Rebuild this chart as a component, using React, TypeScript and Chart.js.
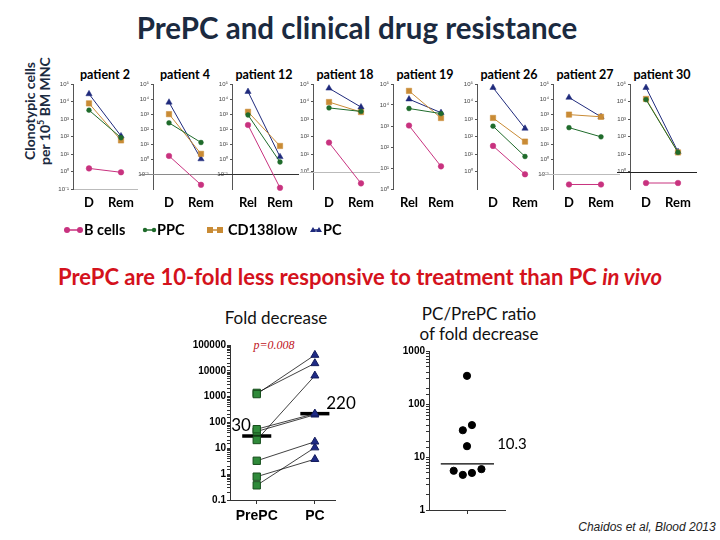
import React, { useEffect, useRef } from 'react';
import { Chart, registerables } from 'chart.js';
Chart.register(...registerables);

// ---------- data: top panels (clonotypic cells per 10^5 BM MNC) ----------
const panelTitles = ['patient 2', 'patient 4', 'patient 12', 'patient 18', 'patient 19', 'patient 26', 'patient 27', 'patient 30'];
const panelTimepoints = [['D', 'Rem'], ['D', 'Rem'], ['Rel', 'Rem'], ['D', 'Rem'], ['Rel', 'Rem'], ['D', 'Rem'], ['D', 'Rem'], ['D', 'Rem']];
const bCells = [[1.5, 0.9], [1.6, 0.019], [185, 0.012], [45, 0.21], [1050, 12], [29, 0.69], [0.02, 0.02], [0.22, 0.22]];
const ppc = [[3200, 85], [256, 12.6], [860, 0.63], [4300, 2700], [6800, 3900], [390, 7.2], [123, 30], [12800, 12.3]];
const cd138low = [[7800, 60], [980, 2.2], [1400, 7.4], [9300, 2500], [47000, 2400], [1150, 51], [910, 650], [14000, 12.3]];
const pcCells = [[27000, 107], [6000, 1.0], [31000, 1.4], [57000, 4800], [19000, 4300], [62000, 290], [12600, 650], [62000, 13.5]];
const panelYMin = [0.1, 0.01, 0.01, 0.1, 1, 0.1, 0.01, 0.1];
const panelYMax = [1e5, 1e5, 1e5, 1e5, 1e5, 1e5, 1e5, 1e5];
const panelTickExpMin = [-1, -1, -1, 0, 0, 0, -1, 0];
const panelTickExpMax = [5, 5, 5, 5, 5, 5, 5, 5];
const panelDetectionLimit = [null, 0.1, 0.1, 1, null, null, 0.1, 1];

const seriesNames = ['B cells', 'PPC', 'CD138low', 'PC'];

// ---------- data: fold decrease ----------
const foldGroups = ['PrePC', 'PC'];
const foldPrePC = [1260, 1400, 55, 45, 21, 3.3, 0.8, 0.37];
const foldPC = [41000, 19500, 220, 200, 6500, 18, 3.8, 10.7];
const foldMedians = [30, 220];
const foldMedianLabels = ['30', '220'];

// ---------- data: PC/PrePC ratio ----------
const ratioValues = [340, 32, 40, 16, 5.5, 4.6, 5.0, 5.9];
const ratioMedianLabel = '10.3';
const ratioMedianLevel = 7.4;

// ---------- layout / style (not data) ----------
const FONT = "Lato, 'Open Sans', sans-serif";
const ARIAL = "'Liberation Sans', Arial, sans-serif";
const seriesColors = ['#c8327f', '#1f6b2b', '#c98b35', '#1f2a7c'];
const seriesPointStyles = ['circle', 'circle', 'rect', 'triangle'];
const seriesPointRadius = [2.8, 2.4, 3.8, 3.6];
const panelAxisX = [73, 153, 232, 313, 393, 477, 553, 630];
const limitLineColors = ['#999', '#8a8a8a', '#333', '#bbb', '#999', '#999', '#bbb', '#222'];
const ratioSwarmOffsets = [0, -0.11, 0.13, 0, -0.35, -0.11, 0.13, 0.38];

const SUP: Record<string, string> = { '-': '⁻', '0': '⁰', '1': '¹', '2': '²', '3': '³', '4': '⁴', '5': '⁵', '6': '⁶' };
const supExp = (e: number) => '10' + String(e).split('').map((c) => SUP[c] || c).join('');

const limitLinePlugin = {
  id: 'limitLine',
  beforeDatasetsDraw(chart: any, _args: any, opts: any) {
    if (opts == null || opts.value == null) return;
    const y = chart.scales.y.getPixelForValue(opts.value);
    const { left, right } = chart.chartArea;
    const ctx = chart.ctx;
    ctx.save();
    ctx.strokeStyle = opts.color;
    ctx.lineWidth = 1;
    ctx.beginPath();
    ctx.moveTo(left - 13, Math.round(y) + 0.5);
    ctx.lineTo(right + 3, Math.round(y) + 0.5);
    ctx.stroke();
    ctx.restore();
  },
};

function panelConfig(i: number): any {
  const all = [bCells, ppc, cd138low, pcCells];
  const datasets = all.map((arr, s) => ({
    label: seriesNames[s],
    data: arr[i],
    borderColor: seriesColors[s],
    backgroundColor: seriesColors[s],
    pointStyle: seriesPointStyles[s],
    pointRadius: seriesPointRadius[s],
    pointBorderWidth: 0.5,
    borderWidth: 1,
    clip: false,
  }));
  return {
    type: 'line',
    data: { labels: panelTimepoints[i], datasets },
    options: {
      animation: false,
      responsive: false,
      events: [],
      layout: { padding: { top: 6, right: 20, left: 0, bottom: 0 } },
      plugins: {
        legend: { display: false },
        tooltip: { enabled: false },
        limitLine: { value: panelDetectionLimit[i], color: limitLineColors[i] },
      },
      scales: {
        x: {
          type: 'category',
          offset: true,
          grid: { display: false, drawTicks: false },
          border: { display: i === 0, color: '#bbb' },
          ticks: { font: { family: FONT, size: 13, weight: 'bold' }, color: '#000', padding: 6, maxRotation: 0 },
          afterFit: (s: any) => { s.height = 30; },
        },
        y: {
          type: 'logarithmic',
          min: panelYMin[i],
          max: panelYMax[i],
          afterFit: (s: any) => { s.width = 22; },
          afterBuildTicks: (s: any) => {
            const t = [];
            for (let e = panelTickExpMin[i]; e <= panelTickExpMax[i]; e++) t.push({ value: Math.pow(10, e) });
            s.ticks = t;
          },
          ticks: {
            autoSkip: false,
            callback: (v: number) => supExp(Math.round(Math.log10(v))),
            font: { family: ARIAL, size: 6 },
            color: '#444',
            padding: 2,
          },
          grid: { drawOnChartArea: false, drawTicks: true, tickLength: 2, color: '#555' },
          border: { display: true, color: '#555', width: 1 },
        },
      },
    },
    plugins: [limitLinePlugin],
  };
}

function foldConfig(): any {
  const pairs = foldPrePC.map((v, i) => ({
    data: [{ x: 0, y: v }, { x: 1, y: foldPC[i] }],
    showLine: true,
    borderColor: '#111',
    borderWidth: 0.8,
    pointStyle: ['rect', 'triangle'],
    pointRadius: [5.2, 4.6],
    pointBackgroundColor: ['#2f8a3a', '#1e2a86'],
    pointBorderColor: ['#174d1c', '#141c5c'],
    pointBorderWidth: 1,
    clip: false,
  }));
  const medians = foldMedians.map((m, g) => ({
    data: [{ x: g - 0.25, y: m }, { x: g + 0.25, y: m }],
    showLine: true,
    borderColor: '#000',
    borderWidth: 3.5,
    pointRadius: 0,
    clip: false,
  }));
  return {
    type: 'scatter',
    data: { datasets: [...pairs, ...medians] },
    options: {
      animation: false,
      responsive: false,
      events: [],
      layout: { padding: { top: 10, right: 5, left: 0, bottom: 0 } },
      plugins: { legend: { display: false }, tooltip: { enabled: false } },
      scales: {
        x: {
          type: 'linear',
          min: -0.46,
          max: 1.36,
          afterBuildTicks: (s: any) => { s.ticks = foldGroups.map((_, k) => ({ value: k })); },
          ticks: {
            callback: (v: number) => foldGroups[Math.round(v)] ?? '',
            font: { family: ARIAL, size: 14, weight: 'bold' },
            color: '#000',
            padding: 4,
          },
          grid: { drawOnChartArea: false, drawTicks: true, tickLength: 4, color: '#333' },
          border: { display: true, color: '#333' },
          afterFit: (s: any) => { s.height = 30; },
        },
        y: {
          type: 'logarithmic',
          min: 0.1,
          max: 100000,
          afterFit: (s: any) => { s.width = 40; },
          ticks: {
            autoSkip: false,
            callback: (v: number) => {
              const e = Math.log10(v);
              if (Math.abs(e - Math.round(e)) > 1e-6) return '';
              return e < 0 ? String(Number(v.toPrecision(1))) : String(Math.round(v));
            },
            font: { family: ARIAL, size: 10, weight: 'bold' },
            color: '#000',
            padding: 1,
          },
          grid: { drawOnChartArea: false, drawTicks: true, tickLength: 3, color: '#333' },
          border: { display: true, color: '#333' },
        },
      },
    },
  };
}

function ratioConfig(): any {
  return {
    type: 'scatter',
    data: {
      datasets: [
        {
          data: ratioValues.map((v, i) => ({ x: ratioSwarmOffsets[i], y: v })),
          pointRadius: 3.6,
          pointBackgroundColor: '#000',
          pointBorderColor: '#000',
          clip: false,
        },
        {
          data: [{ x: -0.69, y: ratioMedianLevel }, { x: 0.71, y: ratioMedianLevel }],
          showLine: true,
          borderColor: '#000',
          borderWidth: 1.2,
          pointRadius: 0,
        },
      ],
    },
    options: {
      animation: false,
      responsive: false,
      events: [],
      layout: { padding: { top: 10, right: 5, left: 0, bottom: 0 } },
      plugins: { legend: { display: false }, tooltip: { enabled: false } },
      scales: {
        x: {
          type: 'linear',
          min: -1,
          max: 1,
          afterBuildTicks: (s: any) => { s.ticks = [{ value: 0 }]; },
          ticks: { callback: () => '', padding: 0 },
          grid: { drawOnChartArea: false, drawTicks: true, tickLength: 4, color: '#333' },
          border: { display: true, color: '#333' },
          afterFit: (s: any) => { s.height = 10; },
        },
        y: {
          type: 'logarithmic',
          min: 1,
          max: 1000,
          afterFit: (s: any) => { s.width = 35; },
          ticks: {
            autoSkip: false,
            callback: (v: number) => {
              const e = Math.log10(v);
              if (Math.abs(e - Math.round(e)) > 1e-6) return '';
              return String(Math.round(v));
            },
            font: { family: ARIAL, size: 10, weight: 'bold' },
            color: '#000',
            padding: 1,
          },
          grid: { drawOnChartArea: false, drawTicks: true, tickLength: 3, color: '#333' },
          border: { display: true, color: '#333' },
        },
      },
    },
  };
}

function ChartBox({ left, top, width, height, make }: any) {
  const ref = useRef<HTMLCanvasElement>(null);
  useEffect(() => {
    const chart = new Chart(ref.current as HTMLCanvasElement, make());
    return () => chart.destroy();
  }, []);
  return (
    <canvas
      ref={ref}
      width={width}
      height={height}
      style={{ position: 'absolute', left, top, width, height }}
    />
  );
}

function Label({ x, y, size, children, weight = 400, color = '#000', italic = false, family = FONT, w = 600 }: any) {
  return (
    <div
      style={{
        position: 'absolute',
        left: x - w / 2,
        top: y - size * 0.6,
        width: w,
        textAlign: 'center',
        fontSize: size,
        lineHeight: `${size * 1.2}px`,
        fontWeight: weight,
        fontStyle: italic ? 'italic' : 'normal',
        color,
        fontFamily: family,
        whiteSpace: 'nowrap',
      }}
    >
      {children}
    </div>
  );
}

function LegendMarker({ x1, x2, y, s }: any) {
  const c = seriesColors[s];
  const st = seriesPointStyles[s];
  const mk = (x: number, k: number) => {
    if (st === 'rect') return <rect key={k} x={x - 3} y={y - 3} width={6} height={6} fill={c} />;
    if (st === 'triangle') return <polygon key={k} points={`${x},${y - 3} ${x + 3},${y + 2} ${x - 3},${y + 2}`} fill={c} />;
    return <circle key={k} cx={x} cy={y} r={s === 0 ? 3 : 2.2} fill={c} />;
  };
  return (
    <g>
      <line x1={x1} y1={y} x2={x2} y2={y} stroke={c} strokeWidth={1.5} />
      {mk(x1, 0)}
      {mk(x2, 1)}
    </g>
  );
}

export default function App() {
  const legendMarkers = [
    { x1: 67, x2: 80 },
    { x1: 145, x2: 154 },
    { x1: 210, x2: 220 },
    { x1: 313, x2: 319 },
  ];
  const legendTextX = [84, 157, 228, 323];
  return (
    <div style={{ position: 'fixed', left: 0, top: 0, width: 720, height: 540, background: '#fff', overflow: 'hidden' }}>
      <Label x={357} y={28} size={29.5} weight={700} color="#1b2a40" w={700}>PrePC and clinical drug resistance</Label>

      <div
        style={{
          position: 'absolute',
          left: 38 - 70,
          top: 111 - 16,
          width: 140,
          height: 32,
          transform: 'rotate(-90deg)',
          textAlign: 'center',
          fontFamily: FONT,
          fontWeight: 700,
          fontSize: 14,
          lineHeight: '15px',
          color: '#1b2a40',
          whiteSpace: 'nowrap',
        }}
      >
        Clonotypic cells
        <br />
        per 10<sup style={{ fontSize: 9, lineHeight: 0 }}>5</sup> BM MNC
      </div>

      {panelTitles.map((t, i) => (
        <Label key={'t' + i} x={panelAxisX[i] + 32} y={74} size={12.5} weight={700} w={100}>{t}</Label>
      ))}
      {panelTitles.map((_, i) => (
        <ChartBox key={'p' + i} left={panelAxisX[i] - 22} top={78} width={106} height={141} make={() => panelConfig(i)} />
      ))}

      <svg width={720} height={20} style={{ position: 'absolute', left: 0, top: 220 }}>
        {legendMarkers.map((m, s) => (
          <LegendMarker key={s} x1={m.x1} x2={m.x2} y={10} s={s} />
        ))}
      </svg>
      {seriesNames.map((n, s) => (
        <div
          key={'l' + s}
          style={{
            position: 'absolute',
            left: legendTextX[s],
            top: 221,
            fontFamily: FONT,
            fontWeight: 700,
            fontSize: 14.5,
            lineHeight: '18px',
            color: '#000',
            whiteSpace: 'nowrap',
          }}
        >
          {n}
        </div>
      ))}

      <Label x={360} y={277} size={22} weight={700} color="#d4121c" w={720}>
        PrePC are 10-fold less responsive to treatment than PC <i>in vivo</i>
      </Label>

      <Label x={276} y={318} size={17} color="#111" w={200}>Fold decrease</Label>
      <Label x={274} y={345} size={12} color="#c0141c" italic family="'Liberation Serif', 'DejaVu Serif', serif" w={100}>p=0.008</Label>
      <ChartBox left={190} top={335} width={152} height={195} make={foldConfig} />
      <Label x={241} y={425} size={17} color="#000" w={60}>{foldMedianLabels[0]}</Label>
      <Label x={341} y={403} size={17} color="#000" w={60}>{foldMedianLabels[1]}</Label>

      <Label x={479} y={314} size={17} color="#111" w={200}>PC/PrePC ratio</Label>
      <Label x={479} y={334} size={17} color="#111" w={200}>of fold decrease</Label>
      <ChartBox left={394} top={341} width={116} height={179} make={ratioConfig} />
      <Label x={512} y={443} size={15} color="#000" w={60}>{ratioMedianLabel}</Label>

      <Label x={647} y={527} size={12} color="#222" italic family={ARIAL} w={200}>Chaidos et al, Blood 2013</Label>
    </div>
  );
}
